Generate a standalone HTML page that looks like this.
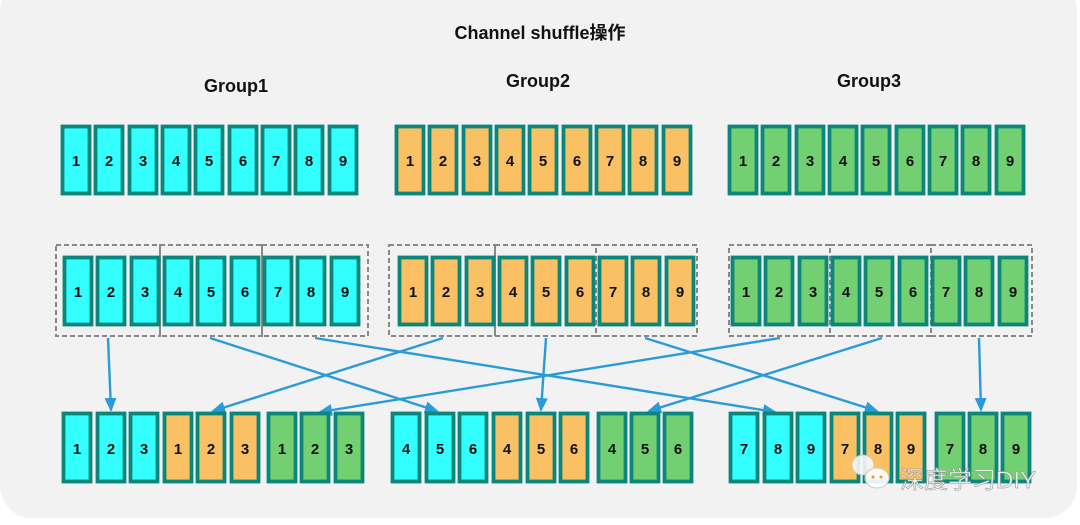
<!DOCTYPE html>
<html><head><meta charset="utf-8"><style>
html,body{margin:0;padding:0;background:#fff;}
svg{display:block}
.c rect{fill:#33ffff}.o rect{fill:#f9c064}.g rect{fill:#72d072}
g.c rect,g.o rect,g.g rect{stroke:#0c857b;stroke-width:3.8}
text.n{font-family:"Liberation Sans",sans-serif;font-weight:bold;font-size:15px;fill:#111;text-anchor:middle}
text.t{font-family:"Liberation Sans","Noto Sans CJK SC",sans-serif;font-weight:bold;font-size:18px;fill:#111;text-anchor:middle}
.d{fill:none;stroke:#888;stroke-width:2;stroke-dasharray:5,3}
.a{stroke:#2a9bd8;stroke-width:2.4;fill:none;marker-end:url(#ah)}
</style></head><body>
<svg width="1080" height="525" viewBox="0 0 1080 525" xmlns="http://www.w3.org/2000/svg">
<defs><marker id="ah" markerWidth="14" markerHeight="12" refX="12" refY="6" orient="auto" markerUnits="userSpaceOnUse"><path d="M0,0 L14,6 L0,12 z" fill="#2a9bd8"/></marker></defs>
<rect x="0" y="-20" width="1077" height="538" rx="32" fill="#f2f2f2"/>
<text class="t" x="540" y="39">Channel shuffle操作</text>
<text class="t" x="236" y="92">Group1</text>
<text class="t" x="538" y="87">Group2</text>
<text class="t" x="869" y="87">Group3</text>

<g class="c">
<rect x="62.5" y="126.5" width="27" height="67"/><rect x="95.5" y="126.5" width="27" height="67"/><rect x="129.5" y="126.5" width="27" height="67"/><rect x="162.5" y="126.5" width="27" height="67"/><rect x="195.5" y="126.5" width="27" height="67"/><rect x="229.5" y="126.5" width="27" height="67"/><rect x="262.5" y="126.5" width="27" height="67"/><rect x="295.5" y="126.5" width="27" height="67"/><rect x="329.5" y="126.5" width="27" height="67"/>
</g>
<g class="o">
<rect x="396.5" y="126.5" width="27" height="67"/><rect x="429.5" y="126.5" width="27" height="67"/><rect x="463.5" y="126.5" width="27" height="67"/><rect x="496.5" y="126.5" width="27" height="67"/><rect x="529.5" y="126.5" width="27" height="67"/><rect x="563.5" y="126.5" width="27" height="67"/><rect x="596.5" y="126.5" width="27" height="67"/><rect x="629.5" y="126.5" width="27" height="67"/><rect x="663.5" y="126.5" width="27" height="67"/>
</g>
<g class="g">
<rect x="729.5" y="126.5" width="27" height="67"/><rect x="762.5" y="126.5" width="27" height="67"/><rect x="796.5" y="126.5" width="27" height="67"/><rect x="829.5" y="126.5" width="27" height="67"/><rect x="862.5" y="126.5" width="27" height="67"/><rect x="896.5" y="126.5" width="27" height="67"/><rect x="929.5" y="126.5" width="27" height="67"/><rect x="962.5" y="126.5" width="27" height="67"/><rect x="996.5" y="126.5" width="27" height="67"/>
</g>
<g>
<text class="n" x="76" y="166">1</text><text class="n" x="109" y="166">2</text><text class="n" x="143" y="166">3</text><text class="n" x="176" y="166">4</text><text class="n" x="209" y="166">5</text><text class="n" x="243" y="166">6</text><text class="n" x="276" y="166">7</text><text class="n" x="309" y="166">8</text><text class="n" x="343" y="166">9</text>
<text class="n" x="410" y="166">1</text><text class="n" x="443" y="166">2</text><text class="n" x="477" y="166">3</text><text class="n" x="510" y="166">4</text><text class="n" x="543" y="166">5</text><text class="n" x="577" y="166">6</text><text class="n" x="610" y="166">7</text><text class="n" x="643" y="166">8</text><text class="n" x="677" y="166">9</text>
<text class="n" x="743" y="166">1</text><text class="n" x="776" y="166">2</text><text class="n" x="810" y="166">3</text><text class="n" x="843" y="166">4</text><text class="n" x="876" y="166">5</text><text class="n" x="910" y="166">6</text><text class="n" x="943" y="166">7</text><text class="n" x="976" y="166">8</text><text class="n" x="1010" y="166">9</text>
</g>

<rect class="d" x="56" y="245" width="104" height="91"/><rect class="d" x="160" y="245" width="102" height="91"/><rect class="d" x="262" y="245" width="106" height="91"/>
<rect class="d" x="389" y="245" width="106" height="91"/><rect class="d" x="495" y="245" width="101" height="91"/><rect class="d" x="596" y="245" width="101" height="91"/>
<rect class="d" x="729" y="245" width="101" height="91"/><rect class="d" x="830" y="245" width="101" height="91"/><rect class="d" x="931" y="245" width="101" height="91"/>
<g class="c">
<rect x="64.5" y="257.5" width="27" height="67"/><rect x="97.5" y="257.5" width="27" height="67"/><rect x="131.5" y="257.5" width="27" height="67"/><rect x="164.5" y="257.5" width="27" height="67"/><rect x="197.5" y="257.5" width="27" height="67"/><rect x="231.5" y="257.5" width="27" height="67"/><rect x="264.5" y="257.5" width="27" height="67"/><rect x="297.5" y="257.5" width="27" height="67"/><rect x="331.5" y="257.5" width="27" height="67"/>
</g>
<g class="o">
<rect x="399.5" y="257.5" width="27" height="67"/><rect x="432.5" y="257.5" width="27" height="67"/><rect x="466.5" y="257.5" width="27" height="67"/><rect x="499.5" y="257.5" width="27" height="67"/><rect x="532.5" y="257.5" width="27" height="67"/><rect x="566.5" y="257.5" width="27" height="67"/><rect x="599.5" y="257.5" width="27" height="67"/><rect x="632.5" y="257.5" width="27" height="67"/><rect x="666.5" y="257.5" width="27" height="67"/>
</g>
<g class="g">
<rect x="732.5" y="257.5" width="27" height="67"/><rect x="765.5" y="257.5" width="27" height="67"/><rect x="799.5" y="257.5" width="27" height="67"/><rect x="832.5" y="257.5" width="27" height="67"/><rect x="865.5" y="257.5" width="27" height="67"/><rect x="899.5" y="257.5" width="27" height="67"/><rect x="932.5" y="257.5" width="27" height="67"/><rect x="965.5" y="257.5" width="27" height="67"/><rect x="999.5" y="257.5" width="27" height="67"/>
</g>
<g>
<text class="n" x="78" y="297">1</text><text class="n" x="111" y="297">2</text><text class="n" x="145" y="297">3</text><text class="n" x="178" y="297">4</text><text class="n" x="211" y="297">5</text><text class="n" x="245" y="297">6</text><text class="n" x="278" y="297">7</text><text class="n" x="311" y="297">8</text><text class="n" x="345" y="297">9</text>
<text class="n" x="413" y="297">1</text><text class="n" x="446" y="297">2</text><text class="n" x="480" y="297">3</text><text class="n" x="513" y="297">4</text><text class="n" x="546" y="297">5</text><text class="n" x="580" y="297">6</text><text class="n" x="613" y="297">7</text><text class="n" x="646" y="297">8</text><text class="n" x="680" y="297">9</text>
<text class="n" x="746" y="297">1</text><text class="n" x="779" y="297">2</text><text class="n" x="813" y="297">3</text><text class="n" x="846" y="297">4</text><text class="n" x="879" y="297">5</text><text class="n" x="913" y="297">6</text><text class="n" x="946" y="297">7</text><text class="n" x="979" y="297">8</text><text class="n" x="1013" y="297">9</text>
</g>

<line class="a" x1="108" y1="338" x2="111" y2="410"/>
<line class="a" x1="210" y1="338" x2="437" y2="411"/>
<line class="a" x1="315" y1="338" x2="775" y2="412"/>
<line class="a" x1="443" y1="338" x2="213" y2="411"/>
<line class="a" x1="546" y1="338" x2="541" y2="410"/>
<line class="a" x1="645" y1="338" x2="877" y2="411"/>
<line class="a" x1="780" y1="338" x2="320" y2="412"/>
<line class="a" x1="882" y1="338" x2="649" y2="411"/>
<line class="a" x1="979" y1="338" x2="981" y2="410"/>

<g class="c">
<rect x="63.5" y="413.5" width="27" height="68"/><rect x="97.5" y="413.5" width="27" height="68"/><rect x="130.5" y="413.5" width="27" height="68"/>
<rect x="392.5" y="413.5" width="27" height="68"/><rect x="426.5" y="413.5" width="27" height="68"/><rect x="459.5" y="413.5" width="27" height="68"/>
<rect x="730.5" y="413.5" width="27" height="68"/><rect x="764.5" y="413.5" width="27" height="68"/><rect x="797.5" y="413.5" width="27" height="68"/>
</g>
<g class="o">
<rect x="164.5" y="413.5" width="27" height="68"/><rect x="197.5" y="413.5" width="27" height="68"/><rect x="231.5" y="413.5" width="27" height="68"/>
<rect x="493.5" y="413.5" width="27" height="68"/><rect x="527.5" y="413.5" width="27" height="68"/><rect x="560.5" y="413.5" width="27" height="68"/>
<rect x="831.5" y="413.5" width="27" height="68"/><rect x="864.5" y="413.5" width="27" height="68"/><rect x="897.5" y="413.5" width="27" height="68"/>
</g>
<g class="g">
<rect x="268.5" y="413.5" width="27" height="68"/><rect x="301.5" y="413.5" width="27" height="68"/><rect x="335.5" y="413.5" width="27" height="68"/>
<rect x="598.5" y="413.5" width="27" height="68"/><rect x="631.5" y="413.5" width="27" height="68"/><rect x="664.5" y="413.5" width="27" height="68"/>
<rect x="936.5" y="413.5" width="27" height="68"/><rect x="969.5" y="413.5" width="27" height="68"/><rect x="1002.5" y="413.5" width="27" height="68"/>
</g>
<g>
<text class="n" x="77" y="454">1</text><text class="n" x="111" y="454">2</text><text class="n" x="144" y="454">3</text><text class="n" x="178" y="454">1</text><text class="n" x="211" y="454">2</text><text class="n" x="245" y="454">3</text><text class="n" x="282" y="454">1</text><text class="n" x="315" y="454">2</text><text class="n" x="349" y="454">3</text>
<text class="n" x="406" y="454">4</text><text class="n" x="440" y="454">5</text><text class="n" x="473" y="454">6</text><text class="n" x="507" y="454">4</text><text class="n" x="541" y="454">5</text><text class="n" x="574" y="454">6</text><text class="n" x="612" y="454">4</text><text class="n" x="645" y="454">5</text><text class="n" x="678" y="454">6</text>
<text class="n" x="744" y="454">7</text><text class="n" x="778" y="454">8</text><text class="n" x="811" y="454">9</text><text class="n" x="845" y="454">7</text><text class="n" x="878" y="454">8</text><text class="n" x="911" y="454">9</text><text class="n" x="950" y="454">7</text><text class="n" x="983" y="454">8</text><text class="n" x="1016" y="454">9</text>
</g>

<g opacity="0.9">
<ellipse cx="863" cy="465" rx="11" ry="10" fill="#f8f8f8" stroke="#ccc"/>
<ellipse cx="877" cy="478" rx="12" ry="10" fill="#fff" stroke="#ccc"/>
<circle cx="873" cy="477" r="1.5" fill="#c9a24a"/><circle cx="881" cy="477" r="1.5" fill="#c9a24a"/>
<text x="900" y="488" font-family="'Liberation Sans','Noto Sans CJK SC',sans-serif" font-size="24" fill="#ffffff" stroke="#999" stroke-width="0.7">深度学习DIY</text>
</g>
</svg>
</body></html>
